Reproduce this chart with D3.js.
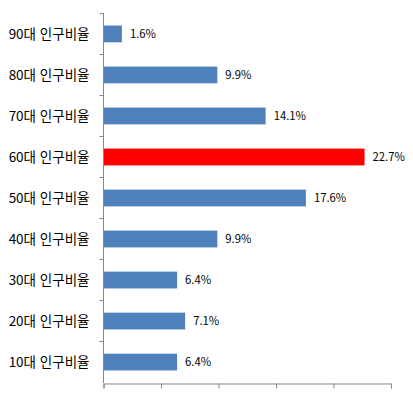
<!DOCTYPE html>
<html lang="ko">
<head>
<meta charset="utf-8">
<title>연령대별 인구비율</title>
<style>
  body { margin: 0; background: #fff; }
  svg text { font-family: "Noto Sans CJK KR", "Noto Sans", sans-serif; fill: #000; }
</style>
</head>
<body>
<div id="chart"></div>
<script src="https://d3js.org/d3.v7.min.js"></script>
<script>
// categories top to bottom
var categories = ["90대 인구비율", "80대 인구비율", "70대 인구비율", "60대 인구비율", "50대 인구비율",
                  "40대 인구비율", "30대 인구비율", "20대 인구비율", "10대 인구비율"];
var values = [1.6, 9.9, 14.1, 22.7, 17.6, 9.9, 6.4, 7.1, 6.4];
var highlight = "60대 인구비율";
var xTicks = [0, 5, 10, 15, 20, 25];

var width = 413, height = 399;
var margin = {top: 13, right: 22, bottom: 16, left: 103.5};

var svg = d3.select("#chart").append("svg")
    .attr("width", width)
    .attr("height", height);

var x = d3.scaleLinear()
    .domain([0, 25])
    .range([margin.left, width - margin.right]);

var y = d3.scaleBand()
    .domain(categories)
    .range([margin.top, height - margin.bottom])
    .paddingInner(0.59)
    .paddingOuter(0.305);

var data = categories.map(function(c, i) { return {cat: c, val: values[i]}; });

// bars
svg.selectAll("rect.bar")
    .data(data)
    .enter()
    .append("rect")
    .attr("class", "bar")
    .attr("x", x(0))
    .attr("y", function(d) { return y(d.cat); })
    .attr("width", function(d) { return x(d.val) - x(0); })
    .attr("height", y.bandwidth())
    .attr("fill", function(d) { return d.cat === highlight ? "#ff0000" : "#4f81bd"; });

// value labels
svg.selectAll("text.val")
    .data(data)
    .enter()
    .append("text")
    .attr("class", "val")
    .attr("x", function(d) { return x(d.val) + 8; })
    .attr("y", function(d) { return y(d.cat) + y.bandwidth() / 2; })
    .attr("dy", "0.35em")
    .attr("font-size", 11.3)
    .text(function(d) { return d.val.toFixed(1) + "%"; });

// y axis: line + ticks at band boundaries
var yAxisG = svg.append("g");
var bottomY = height - margin.bottom;
yAxisG.append("line")
    .attr("x1", x(0)).attr("x2", x(0))
    .attr("y1", margin.top).attr("y2", bottomY)
    .attr("stroke", "#868686");

var step = y.step();
var bounds = d3.range(categories.length).map(function(i) { return margin.top + i * step; });
yAxisG.selectAll("line.tk")
    .data(bounds)
    .enter()
    .append("line")
    .attr("class", "tk")
    .attr("x1", x(0) - 4).attr("x2", x(0))
    .attr("y1", function(d) { return Math.round(d) + 0.5; })
    .attr("y2", function(d) { return Math.round(d) + 0.5; })
    .attr("stroke", "#868686");

// category labels
svg.selectAll("text.cat")
    .data(categories)
    .enter()
    .append("text")
    .attr("class", "cat")
    .attr("x", x(0) - 14)
    .attr("y", function(d) { return y(d) + y.bandwidth() / 2; })
    .attr("dy", "0.35em")
    .attr("text-anchor", "end")
    .attr("font-size", 13.5)
    .text(function(d) { return d; });

// x axis, no labels
var xAxis = d3.axisBottom(x)
    .tickValues(xTicks)
    .tickSize(5)
    .tickFormat("");
var xg = svg.append("g")
    .attr("transform", "translate(0," + (Math.round(bottomY) + 0.5) + ")")
    .call(xAxis);
xg.select(".domain").attr("stroke", "#868686");
xg.selectAll(".tick line").attr("stroke", "#868686");
</script>
</body>
</html>
